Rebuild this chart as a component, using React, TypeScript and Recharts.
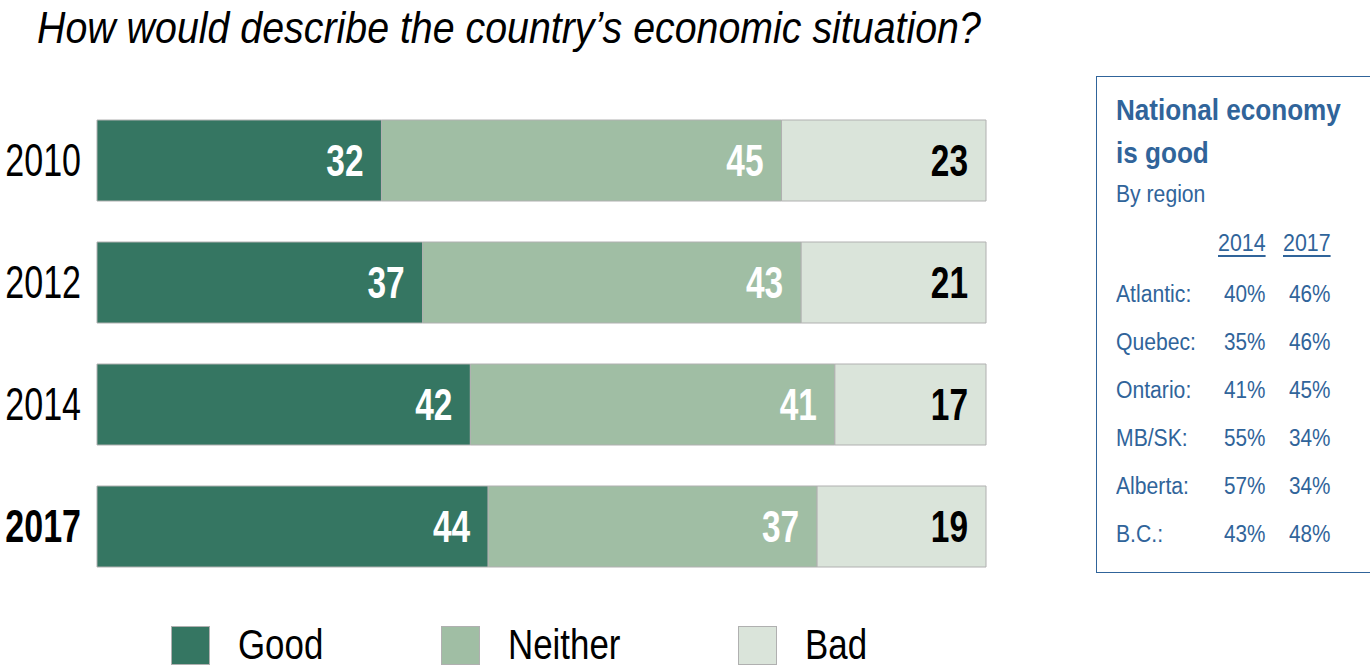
import { Bar, BarChart, LabelList, XAxis, YAxis } from "recharts";

const years = ["2010", "2012", "2014", "2017"];
const good = [32, 37, 42, 44];
const neither = [45, 43, 41, 37];
const bad = [23, 21, 17, 19];

const regions = ["Atlantic:", "Quebec:", "Ontario:", "MB/SK:", "Alberta:", "B.C.:"];
const good2014 = ["40%", "35%", "41%", "55%", "57%", "43%"];
const good2017 = ["46%", "46%", "45%", "34%", "34%", "48%"];

// no narrow font installed, so squeeze Liberation Sans horizontally
const FONT = '"Liberation Sans", Arial, sans-serif';
const BLUE = "#30649a";

const series = [
  { key: "good", name: "Good", fill: "#357662", label: "#ffffff" },
  { key: "neither", name: "Neither", fill: "#a0bea4", label: "#ffffff" },
  { key: "bad", name: "Bad", fill: "#dae4da", label: "#000000" },
];

const data = years.map((year, i) => ({ year, good: good[i], neither: neither[i], bad: bad[i] }));

function Narrow({ scale, children, style }: { scale: number; children: any; style?: any }) {
  return (
    <span style={{ display: "inline-block", transform: `scaleX(${scale})`, transformOrigin: "left center", whiteSpace: "nowrap", ...style }}>
      {children}
    </span>
  );
}

function YearTick(props: any) {
  const { y, payload } = props;
  const last = payload.value === years[years.length - 1];
  return (
    <g transform={`translate(81,${y}) scale(0.74,1)`}>
      <text x={0} y={0} textAnchor="end" dominantBaseline="central" fontSize={46}
        fontWeight={last ? 700 : 400} fill="#000" fontFamily={FONT}>
        {payload.value}
      </text>
    </g>
  );
}

function makeLabel(color: string) {
  return (props: any) => {
    const { x, y, width, height, value } = props;
    return (
      <g transform={`translate(${x + width - 18},${y + height / 2}) scale(0.76,1)`}>
        <text x={0} y={0} textAnchor="end" dominantBaseline="central"
          fontSize={44} fontWeight={700} fill={color} fontFamily={FONT}>
          {value}
        </text>
      </g>
    );
  };
}

function LegendBox() {
  const pos = [171, 441, 738];
  return (
    <div style={{ position: "absolute", left: 0, top: 625, height: 40, width: 1000 }}>
      {series.map((s, i) => (
        <div key={s.key} style={{ position: "absolute", left: pos[i], top: 0, display: "flex", alignItems: "center" }}>
          <div style={{ width: 39, height: 39, background: s.fill, border: "1px solid #b0b0b0", boxSizing: "border-box" }} />
          <Narrow scale={0.83} style={{ marginLeft: 28, fontSize: 42, color: "#000", lineHeight: "40px" }}>{s.name}</Narrow>
        </div>
      ))}
    </div>
  );
}

export default function App() {
  return (
    <div style={{ position: "fixed", left: 0, top: 0, width: 1370, height: 670, background: "#fff", fontFamily: FONT, overflow: "hidden" }}>
      <div style={{ position: "absolute", left: 37, top: 1, fontSize: 44, fontStyle: "italic", lineHeight: "54px" }}>
        <Narrow scale={0.894}>How would describe the country’s economic situation?</Narrow>
      </div>
      <div style={{ position: "absolute", left: 0, top: 0 }}>
        <BarChart width={1000} height={670} data={data} layout="vertical" stackOffset="expand"
          barSize={81} margin={{ top: 99, right: 14, bottom: 83, left: 0 }}>
          <XAxis type="number" hide domain={[0, 1]} />
          <YAxis type="category" dataKey="year" width={97} axisLine={false} tickLine={false} tick={<YearTick />} />
          {series.map((s) => (
            <Bar key={s.key} dataKey={s.key} name={s.name} stackId="a" fill={s.fill}
              stroke="#b0b0b0" strokeWidth={1} isAnimationActive={false}>
              <LabelList dataKey={s.key} content={makeLabel(s.label)} />
            </Bar>
          ))}
        </BarChart>
      </div>
      <LegendBox />
      <div style={{ position: "absolute", left: 1096, top: 76, width: 290, height: 497, border: `1.5px solid ${BLUE}`, boxSizing: "border-box", color: BLUE }}>
        <div style={{ position: "absolute", left: 19, top: 12, fontSize: 29, fontWeight: 700, lineHeight: "43px" }}>
          <Narrow scale={0.9}>National economy</Narrow><br />
          <Narrow scale={0.9}>is good</Narrow>
        </div>
        <div style={{ position: "absolute", left: 19, top: 104, fontSize: 23 }}>
          <Narrow scale={0.92}>By region</Narrow>
        </div>
        <div style={{ position: "absolute", left: 121, top: 153, fontSize: 23, textDecoration: "underline", textUnderlineOffset: 4 }}>
          <Narrow scale={0.93} style={{ textDecoration: "underline", textUnderlineOffset: 4 }}>2014</Narrow>
        </div>
        <div style={{ position: "absolute", left: 186, top: 153, fontSize: 23 }}>
          <Narrow scale={0.93} style={{ textDecoration: "underline", textUnderlineOffset: 4 }}>2017</Narrow>
        </div>
        {regions.map((r, i) => (
          <div key={r} style={{ position: "absolute", left: 19, top: 204 + i * 48, fontSize: 23, width: 250, height: 30 }}>
            <span style={{ position: "absolute", left: 0 }}><Narrow scale={0.92}>{r}</Narrow></span>
            <span style={{ position: "absolute", left: 108 }}><Narrow scale={0.9}>{good2014[i]}</Narrow></span>
            <span style={{ position: "absolute", left: 173 }}><Narrow scale={0.9}>{good2017[i]}</Narrow></span>
          </div>
        ))}
      </div>
    </div>
  );
}
